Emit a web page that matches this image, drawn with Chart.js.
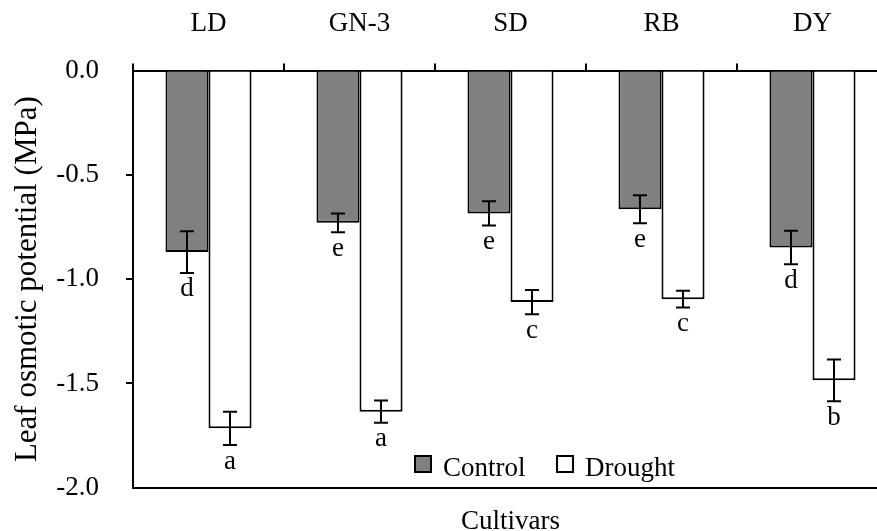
<!DOCTYPE html>
<html>
<head>
<meta charset="utf-8">
<script src="https://cdn.jsdelivr.net/npm/chart.js@4"></script>
<style>
  html, body { margin: 0; padding: 0; background: #fff; overflow: hidden; }
  #wrap { width: 895px; height: 531px; }
</style>
</head>
<body>
<div id="wrap"><canvas id="osmotic" width="895" height="531"></canvas></div>
<script>
const cultivars = ['LD', 'GN-3', 'SD', 'RB', 'DY'];
const controlMean = [-0.87, -0.73, -0.685, -0.665, -0.848];
const controlErr = [0.10, 0.045, 0.058, 0.067, 0.08];
const controlLetters = ['d', 'e', 'e', 'e', 'd'];
const droughtMean = [-1.715, -1.635, -1.11, -1.096, -1.485];
const droughtErr = [0.08, 0.053, 0.058, 0.04, 0.10];
const droughtLetters = ['a', 'a', 'c', 'c', 'b'];
const yTicks = [0, -0.5, -1.0, -1.5, -2.0];

const serif = '"Liberation Serif", "Times New Roman", Times, serif';
const ctx = document.getElementById('osmotic');

// error bars, significance letters and the inside legend
const extras = {
    id: 'extras',
    afterDatasetsDraw(chart) {
        const c = chart.ctx;
        const y = chart.scales.y;
        const errs = [controlErr, droughtErr];
        const letters = [controlLetters, droughtLetters];
        c.save();
        c.strokeStyle = '#000';
        c.lineWidth = 2;
        c.fillStyle = '#000';
        c.font = '27px ' + serif;
        c.textAlign = 'center';
        c.textBaseline = 'top';
        chart.data.datasets.forEach((ds, di) => {
            chart.getDatasetMeta(di).data.forEach((bar, i) => {
                const v = ds.data[i];
                const top = y.getPixelForValue(v + errs[di][i]);
                const bot = y.getPixelForValue(v - errs[di][i]);
                const x = bar.x;
                c.beginPath();
                c.moveTo(x, top); c.lineTo(x, bot);
                c.moveTo(x - 7, top); c.lineTo(x + 7, top);
                c.moveTo(x - 7, bot); c.lineTo(x + 7, bot);
                c.stroke();
                c.fillText(letters[di][i], x, bot + 3);
            });
        });

        // legend
        const lx = [415, 557];
        c.textAlign = 'left';
        c.textBaseline = 'alphabetic';
        chart.data.datasets.forEach((ds, di) => {
            c.fillStyle = ds.backgroundColor;
            c.fillRect(lx[di], 456, 16, 16);
            c.strokeRect(lx[di], 456, 16, 16);
            c.fillStyle = '#000';
            c.fillText(ds.label, lx[di] + 28, 476);
        });
        c.restore();
    }
};

new Chart(ctx, {
    type: 'bar',
    data: {
        labels: cultivars,
        datasets: [{
            label: 'Control',
            data: controlMean,
            backgroundColor: '#808080',
            borderColor: '#000',
            borderWidth: 2,
            borderSkipped: 'start',
            xAxisID: 'x'
        }, {
            label: 'Drought',
            data: droughtMean,
            backgroundColor: '#ffffff',
            borderColor: '#000',
            borderWidth: 2,
            borderSkipped: 'start',
            xAxisID: 'x'
        }]
    },
    options: {
        responsive: false,
        animation: false,
        devicePixelRatio: 1,
        categoryPercentage: 0.57,
        barPercentage: 1,
        layout: { padding: { left: 0, right: 7, top: 0, bottom: 0 } },
        plugins: {
            legend: { display: false },
            tooltip: { enabled: false }
        },
        scales: {
            x: {
                position: 'top',
                offset: true,
                grid: { offset: true, drawOnChartArea: false, tickLength: 7, color: '#000', lineWidth: 2 },
                border: { display: true, color: '#000', width: 2 },
                ticks: { color: '#000', padding: 23, font: { family: serif, size: 27 } },
                afterFit(s) { s.height = 70.5; }
            },
            x2: {
                type: 'category',
                labels: cultivars,
                position: 'bottom',
                grid: { display: false },
                border: { display: true, color: '#000', width: 2 },
                ticks: { display: false },
                title: {
                    display: true, text: 'Cultivars', color: '#000',
                    padding: { top: -8, bottom: -8 },
                    font: { family: serif, size: 27, lineHeight: 1 }
                },
                afterFit(s) { s.height = 40; }
            },
            y: {
                min: -2,
                max: 0,
                afterBuildTicks(s) { s.ticks = yTicks.map(v => ({ value: v })); },
                grid: {
                    drawOnChartArea: false, tickLength: 7, lineWidth: 2,
                    color: t => (t.tick && (t.tick.value === 0 || t.tick.value === -2)) ? 'rgba(0,0,0,0)' : '#000'
                },
                border: { display: true, color: '#000', width: 2 },
                ticks: {
                    color: '#000', padding: 27,
                    font: { family: serif, size: 27 },
                    callback: v => v.toFixed(1)
                },
                title: {
                    display: true, text: 'Leaf osmotic potential (MPa)', color: '#000',
                    padding: { top: 12, bottom: 0 },
                    font: { family: serif, size: 31, lineHeight: 1 }
                },
                afterFit(s) { s.width = 133; }
            }
        }
    },
    plugins: [extras]
});
</script>
</body>
</html>
